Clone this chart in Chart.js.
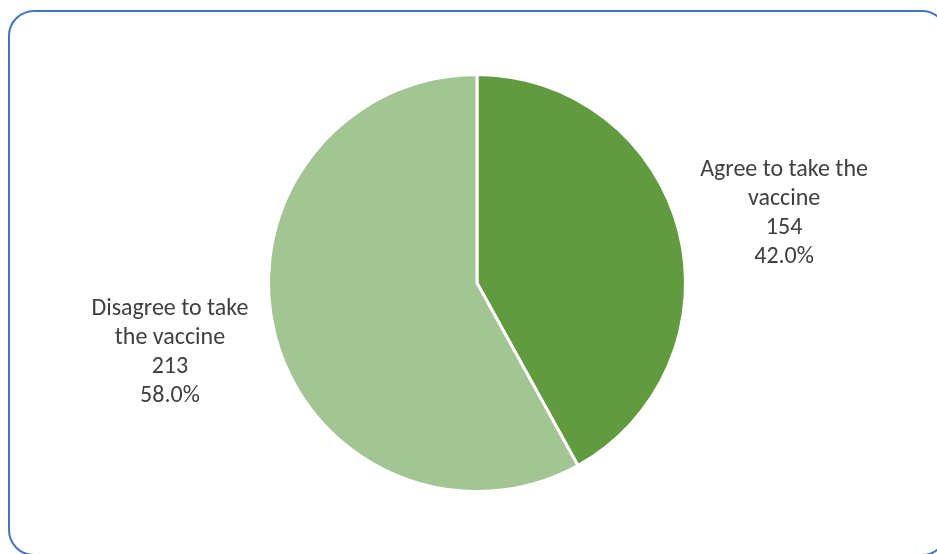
<!DOCTYPE html>
<html lang="en">
<head>
    <meta charset="UTF-8">
    <title>Vaccine acceptance</title>
    <script src="https://cdn.jsdelivr.net/npm/chart.js@4.4.3/dist/chart.umd.min.js"></script>
    <style>
        html, body { margin: 0; padding: 0; background: #fff; overflow: hidden; }
        #wrap { position: relative; width: 937px; height: 554px; overflow: hidden; }
        #frame {
            position: absolute; left: 8px; top: 10px; width: 940px; height: 546px;
            border: 2.5px solid #4472C4; border-radius: 26px; box-sizing: border-box;
        }
        canvas { position: absolute; left: 0; top: 0; }
    </style>
</head>
<body>
    <div id="wrap">
        <div id="frame"></div>
        <canvas id="mychart" width="937" height="554"></canvas>
    </div>
    <script>
        // chart data
        const categories = [['Agree to take the', 'vaccine'], ['Disagree to take', 'the vaccine']];
        const counts = [154, 213];
        const sliceColors = ['#629B3F', '#A3C493'];

        // draws "label / count / percent" outside each slice, like Excel's best-fit labels
        const outsideLabels = {
            id: 'outsideLabels',
            afterDatasetsDraw(chart) {
                const ctx = chart.ctx;
                const meta = chart.getDatasetMeta(0);
                const total = counts.reduce((a, b) => a + b, 0);
                ctx.save();
                ctx.font = '24px Carlito, Calibri, Lato, sans-serif';
                ctx.fillStyle = '#404040';
                ctx.textAlign = 'center';
                ctx.textBaseline = 'middle';
                meta.data.forEach((arc, i) => {
                    const mid = (arc.startAngle + arc.endAngle) / 2 + 0.03;
                    const dist = arc.outerRadius * 1.51;
                    const cx = arc.x + Math.cos(mid) * dist;
                    const cy = arc.y + Math.sin(mid) * dist;
                    const lines = [...categories[i], String(counts[i]), (counts[i] / total * 100).toFixed(1) + '%'];
                    const lh = 29.3;
                    const top = cy - (lines.length - 1) * lh / 2;
                    lines.forEach((t, k) => ctx.fillText(t, cx, top + k * lh));
                });
                ctx.restore();
            }
        };

        var config = {
            type: 'pie',
            data: {
                labels: categories,
                datasets: [{
                    data: counts,
                    backgroundColor: sliceColors,
                    borderColor: '#ffffff',
                    borderWidth: 3
                }]
            },
            options: {
                responsive: false,
                animation: false,
                layout: { padding: { top: 73, bottom: 61, left: 267, right: 250 } },
                plugins: {
                    legend: { display: false },
                    tooltip: { enabled: false }
                }
            },
            plugins: [outsideLabels]
        };

        var mychart = new Chart(document.getElementById('mychart'), config);
    </script>
</body>
</html>
